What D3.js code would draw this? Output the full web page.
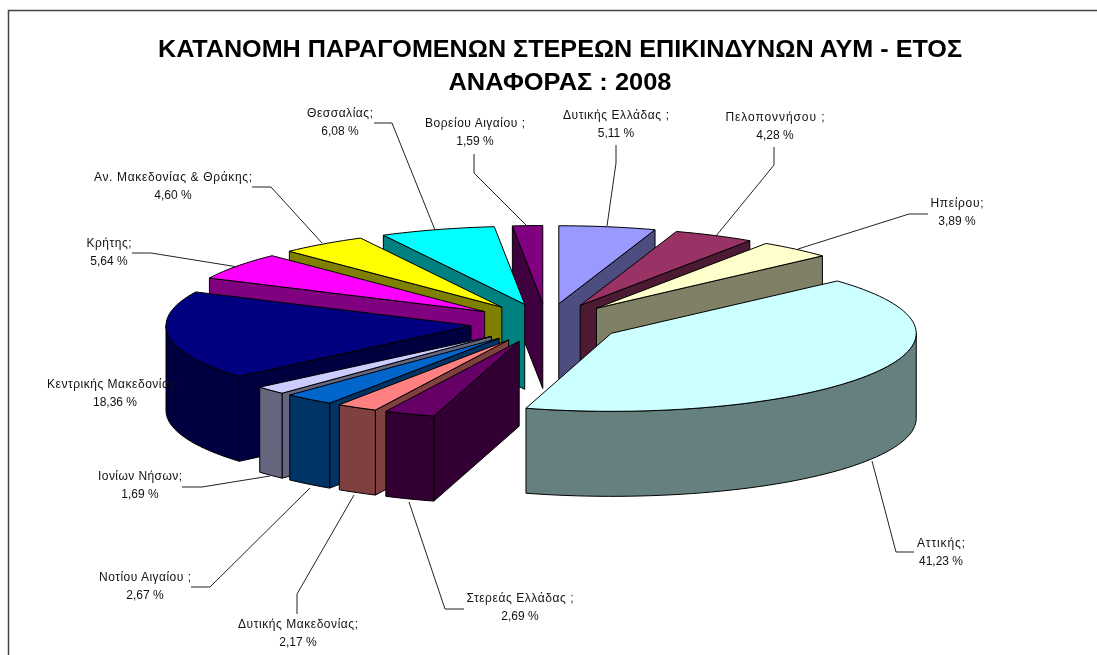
<!DOCTYPE html>
<html>
<head>
<meta charset="utf-8">
<script src="https://cdn.jsdelivr.net/npm/d3@7/dist/d3.min.js"></script>
<style>
html,body{margin:0;padding:0;background:#fff;overflow:hidden}
svg{display:block;filter:blur(0.45px)}
text{font-family:"Liberation Sans",Arial,sans-serif;fill:#111}
</style>
</head>
<body>
<svg id="chart" width="1097" height="655"></svg>
<script>
const titleLines = ["ΚΑΤΑΝΟΜΗ ΠΑΡΑΓΟΜΕΝΩΝ ΣΤΕΡΕΩΝ ΕΠΙΚΙΝΔΥΝΩΝ ΑΥΜ - ΕΤΟΣ", "ΑΝΑΦΟΡΑΣ : 2008"];
const categories = ["Δυτικής Ελλάδας ;","Πελοποννήσου ;","Ηπείρου;","Αττικής;","Στερεάς Ελλάδας ;","Δυτικής Μακεδονίας;","Νοτίου Αιγαίου ;","Ιονίων Νήσων;","Κεντρικής Μακεδονίας ;","Κρήτης;","Αν. Μακεδονίας & Θράκης;","Θεσσαλίας;","Βορείου Αιγαίου ;"];
const values = [5.11,4.28,3.89,41.23,2.69,2.17,2.67,1.69,18.36,5.64,4.60,6.08,1.59];
const topColors = ["#9999FF","#993366","#FFFFCC","#CCFFFF","#660066","#FF8080","#0066CC","#CCCCFF","#000080","#FF00FF","#FFFF00","#00FFFF","#800080"];
const sideColors = ["#4D4D80","#4D1A33","#808066","#668080","#330033","#804040","#003366","#666680","#000040","#800080","#808000","#008080","#400040"];

// layout of the labels: centre x, first-line y, first-line width, leader polyline
const labelLayout = [
  {x:616,y:115,w:106,leader:[[616,145],[616,163],[607,226]]},
  {x:775,y:117,w:99, leader:[[774,147],[774,165],[716,236]]},
  {x:957,y:203,w:53, leader:[[928,214],[909,214],[798,249]]},
  {x:941,y:543,w:48, leader:[[914,552],[896,552],[872,461]]},
  {x:520,y:598,w:107,leader:[[464,609],[445,609],[409,502]]},
  {x:298,y:624,w:120,leader:[[297,614],[297,594],[354,495]]},
  {x:145,y:577,w:92, leader:[[191,587],[210,587],[310,488]]},
  {x:140,y:476,w:84, leader:[[182,487],[202,487],[270,476]]},
  {x:115,y:384,w:136,leader:null},
  {x:109,y:243,w:45, leader:[[132,253],[151,253],[238,267]]},
  {x:173,y:177,w:158,leader:[[252,187],[271,187],[322,243]]},
  {x:340,y:113,w:66, leader:[[374,123],[392,123],[435,230]]},
  {x:475,y:123,w:100,leader:[[474,154],[474,173],[527,226]]}
];

const svg = d3.select("#chart");
const W = 1097, H = 655;

// Frame
svg.append("path").attr("d", d3.line()([[W,10.5],[8.5,10.5],[8.5,H]]))
  .attr("fill","none").attr("stroke","#444").attr("stroke-width",1.5);

// Title
const titleW = [804,223], titleY = [57,89.5];
svg.selectAll("text.title").data(titleLines).join("text").attr("class","title")
  .attr("x",560).attr("y",(d,i)=>titleY[i]).attr("text-anchor","middle")
  .attr("font-size",24.5).attr("font-weight","bold").style("fill","#000")
  .attr("textLength",(d,i)=>titleW[i]).attr("lengthAdjust","spacingAndGlyphs")
  .text(d=>d);

// Pie geometry: flat plane projected to an ellipse
const cx = 546.6, cy = 323, Rx = 305, Ry = 78, depth = 85, explode = 0.25;
const sx = d3.scaleLinear().domain([-1,1]).range([cx-Rx,cx+Rx]);
const sy = d3.scaleLinear().domain([-1,1]).range([cy+Ry,cy-Ry]);
const pie = d3.pie().sort(null).startAngle(0).endAngle(2*Math.PI);
const arcs = pie(values).map((a,i)=>{
  const mid = (a.startAngle+a.endAngle)/2;
  return {...a,i,mid,ox:explode*Math.sin(mid),oy:explode*Math.cos(mid)};
});
const pt = (a,r,th)=>[sx(a.ox+r*Math.sin(th)),sy(a.oy+r*Math.cos(th))];
const down = p=>[p[0],p[1]+depth];
const line = d3.line();
const closed = pts=>line(pts)+"Z";
const arcSamples = (a0,a1)=>{
  const n = Math.max(2,Math.ceil((a1-a0)/(Math.PI/90)));
  return d3.range(n+1).map(k=>a0+(a1-a0)*k/n);
};

const slices = svg.append("g").selectAll("g")
  .data(arcs.slice().sort((p,q)=>Math.cos(q.mid)-Math.cos(p.mid)))
  .join("g");

slices.each(function(a){
  const g = d3.select(this);
  const apex = pt(a,0,0);
  const face = (pts,fill)=>g.append("path").attr("d",closed(pts)).attr("fill",fill)
    .attr("stroke","#000").attr("stroke-width",1).attr("stroke-linejoin","round");
  const side = sideColors[a.i];
  // Radial walls, only those facing the viewer
  if (Math.cos(a.startAngle-Math.PI/2) < 0) {
    const e = pt(a,1,a.startAngle);
    face([apex,e,down(e),down(apex)],side);
  }
  if (Math.cos(a.endAngle+Math.PI/2) < 0) {
    const e = pt(a,1,a.endAngle);
    face([apex,e,down(e),down(apex)],side);
  }
  // Outer wall on the front half of the rim
  const lo = Math.max(a.startAngle,Math.PI/2), hi = Math.min(a.endAngle,3*Math.PI/2);
  if (hi>lo) {
    const rim = arcSamples(lo,hi).map(t=>pt(a,1,t));
    face(rim.concat(rim.slice().reverse().map(down)),side);
  }
  // Top
  face([apex].concat(arcSamples(a.startAngle,a.endAngle).map(t=>pt(a,1,t))),topColors[a.i]);
});

// Leaders
svg.append("g").selectAll("path").data(labelLayout.filter(d=>d.leader)).join("path")
  .attr("d",d=>line(d.leader)).attr("fill","none").attr("stroke","#222").attr("stroke-width",1);

// Labels
const labels = svg.append("g").selectAll("g").data(arcs).join("g");
labels.append("text")
  .attr("x",a=>labelLayout[a.i].x).attr("y",a=>labelLayout[a.i].y+4)
  .attr("text-anchor","middle").attr("font-size",12)
  .attr("textLength",a=>labelLayout[a.i].w).attr("lengthAdjust","spacing")
  .text(a=>categories[a.i]);
labels.append("text")
  .attr("x",a=>labelLayout[a.i].x).attr("y",a=>labelLayout[a.i].y+22)
  .attr("text-anchor","middle").attr("font-size",12)
  .text(a=>values[a.i].toFixed(2).replace(".",",")+" %");
</script>
</body>
</html>
